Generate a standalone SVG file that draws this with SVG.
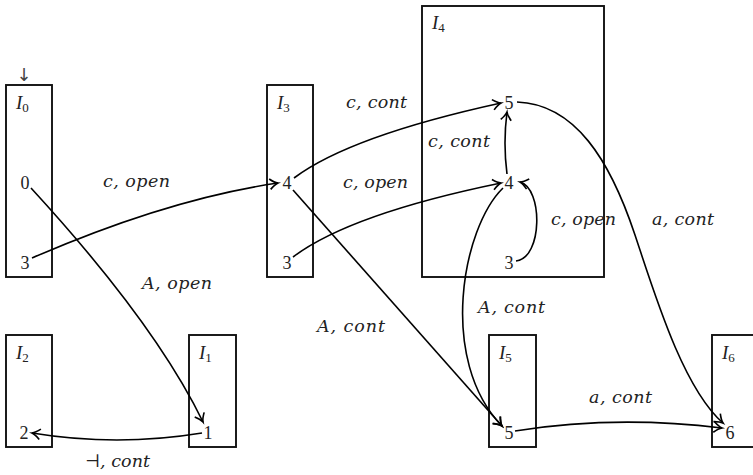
<svg xmlns="http://www.w3.org/2000/svg" width="753" height="475" viewBox="0 0 753 475">
<style>
.box{fill:none;stroke:#111;stroke-width:1.9}
.e{fill:none;stroke:#000;stroke-width:1.6;marker-end:url(#ah)}
.num{font-family:"Liberation Serif","DejaVu Serif",serif;font-size:18px;fill:#222;text-anchor:middle}
.nm{font-family:"Liberation Serif","DejaVu Serif",serif;font-size:19px;font-style:italic;fill:#222}
.sub{font-size:13px;font-style:normal}
.lab{font-family:"DejaVu Serif","Liberation Serif",serif;font-size:17.5px;font-style:italic;fill:#222}
</style>
<defs>
<marker id="ah" markerUnits="userSpaceOnUse" markerWidth="14" markerHeight="14" viewBox="-8 -6 10 12" refX="0" refY="0" orient="auto" overflow="visible">
<path d="M-7,-4.5 C-4,-1.8 -1.8,-0.5 0,0 C-1.8,0.5 -4,1.8 -7,4.5" fill="none" stroke="#000" stroke-width="1.4"/>
</marker>
</defs>
<text x="24" y="81" font-family="DejaVu Sans, sans-serif" font-size="18" fill="#444" text-anchor="middle">↓</text>
<g id="I0"><rect class="box" x="6" y="85" width="46" height="192"/><text class="nm" x="16" y="109">I<tspan class="sub" dy="3">0</tspan></text><text class="num" x="25" y="189">0</text><text class="num" x="25" y="269">3</text></g>
<g id="I3"><rect class="box" x="267" y="85" width="46" height="192"/><text class="nm" x="277" y="109">I<tspan class="sub" dy="3">3</tspan></text><text class="num" x="287" y="189">4</text><text class="num" x="287" y="269">3</text></g>
<g id="I4"><rect class="box" x="422" y="6" width="182" height="271"/><text class="nm" x="432" y="29">I<tspan class="sub" dy="3">4</tspan></text><text class="num" x="509" y="109">5</text><text class="num" x="509" y="189">4</text><text class="num" x="509" y="269">3</text></g>
<g id="I2"><rect class="box" x="6" y="335" width="46" height="112"/><text class="nm" x="16" y="359">I<tspan class="sub" dy="3">2</tspan></text><text class="num" x="24" y="439">2</text></g>
<g id="I1"><rect class="box" x="189" y="335" width="47" height="112"/><text class="nm" x="199" y="359">I<tspan class="sub" dy="3">1</tspan></text><text class="num" x="208" y="439">1</text></g>
<g id="I5"><rect class="box" x="489" y="335" width="47" height="112"/><text class="nm" x="499" y="359">I<tspan class="sub" dy="3">5</tspan></text><text class="num" x="509" y="439">5</text></g>
<g id="I6"><rect class="box" x="712" y="335" width="50" height="112"/><text class="nm" x="722" y="359">I<tspan class="sub" dy="3">6</tspan></text><text class="num" x="730" y="439">6</text></g>
<g id="edges">
<path class="e" d="M31,188 Q155,323 203,422"/>
<path class="e" d="M32,258 Q168,199 278,183"/>
<path class="e" d="M294,178 Q350,136 501,103"/>
<path class="e" d="M293,257 Q350,214 501,183"/>
<path class="e" d="M293,190 L502,426"/>
<path class="e" d="M507,174 Q503,143 507,112"/>
<path class="e" d="M516,261 C543,258 543,188 520,182"/>
<path class="e" d="M503,188 C462,228 438,360 502,426"/>
<path class="e" d="M517,102 C575,104 610,160 635,235 C655,295 683,388 723,423"/>
<path class="e" d="M515,431 Q615,415 722,428"/>
<path class="e" d="M202,433 Q117,447 32,433"/>
</g>
<g id="labels">
<text class="lab" x="103" y="187" textLength="67">c, open</text>
<text class="lab" x="142" y="289" textLength="70">A, open</text>
<text class="lab" x="346" y="108" textLength="61">c, cont</text>
<text class="lab" x="428" y="147" textLength="62">c, cont</text>
<text class="lab" x="343" y="188" textLength="65">c, open</text>
<text class="lab" x="551" y="225" textLength="65">c, open</text>
<text class="lab" x="652" y="225" textLength="62">a, cont</text>
<text class="lab" x="478" y="313" textLength="67">A, cont</text>
<text class="lab" x="317" y="332" textLength="68">A, cont</text>
<text class="lab" x="589" y="403" textLength="63">a, cont</text>
<text class="lab" x="85" y="467" textLength="65">⊣, cont</text>
</g>
</svg>
